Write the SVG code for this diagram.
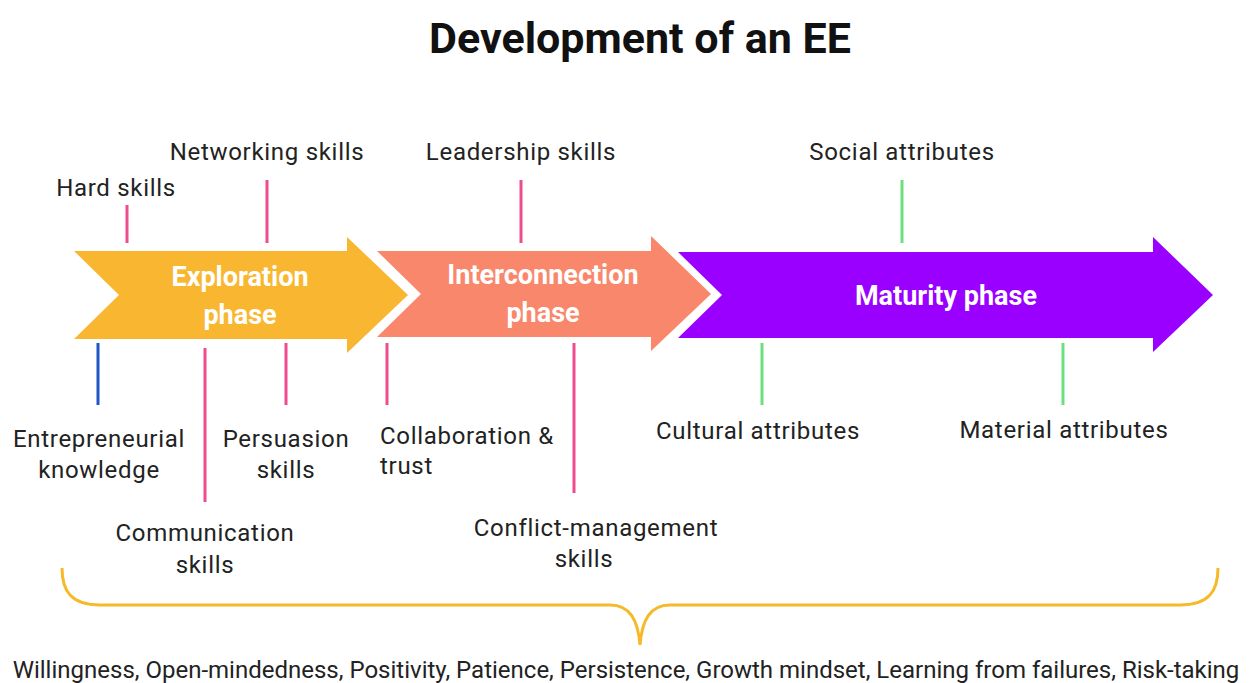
<svg xmlns="http://www.w3.org/2000/svg" width="1253" height="683" viewBox="0 0 1253 683">
<style>
.title{font-family:"Roboto","Liberation Sans",sans-serif;font-weight:bold;font-size:43px;fill:#111;text-anchor:middle}
.phase{font-family:"Roboto","Liberation Sans",sans-serif;font-weight:bold;font-size:27px;fill:#fff;text-anchor:middle}
.lbl{font-family:"Roboto","Liberation Sans",sans-serif;font-size:24px;letter-spacing:0.7px;fill:#222;text-anchor:middle}
.lbl-l{font-family:"Roboto","Liberation Sans",sans-serif;font-size:24px;letter-spacing:0.7px;fill:#222;text-anchor:start}
.bottom{font-family:"Roboto","Liberation Sans",sans-serif;font-size:24px;fill:#222;text-anchor:middle}
.pink{stroke:#ef4b8f;stroke-width:3;fill:none}
.blue{stroke:#1e55c8;stroke-width:3;fill:none}
.green{stroke:#6ce07c;stroke-width:3;fill:none}
</style>
<rect width="1253" height="683" fill="#fff"/>
<text class="title" x="640" y="53">Development of an EE</text>

<g id="exploration">
<polygon points="74,251 347,251 347,237 408,295 347,353 347,339 74,339 119,295" fill="#f9b731"/>
<text class="phase" x="240" y="286">Exploration</text>
<text class="phase" x="240" y="324">phase</text>
</g>
<g id="interconnection">
<polygon points="377,251 651,251 651,236 711,294 651,351 651,337 377,337 421,294" fill="#f9876b"/>
<text class="phase" x="543" y="284">Interconnection</text>
<text class="phase" x="543" y="322">phase</text>
</g>
<g id="maturity">
<polygon points="678,252 1153,252 1153,237 1213,295 1153,352 1153,338 678,338 722,295" fill="#9900ff"/>
<text class="phase" x="946" y="305">Maturity phase</text>
</g>

<g id="connectors">
<line class="pink" x1="127" y1="205" x2="127" y2="243"/>
<line class="pink" x1="267" y1="180" x2="267" y2="243"/>
<line class="pink" x1="521" y1="180" x2="521" y2="243"/>
<line class="green" x1="902" y1="180" x2="902" y2="243"/>
<line class="blue" x1="98" y1="343" x2="98" y2="405"/>
<line class="pink" x1="205" y1="348" x2="205" y2="502"/>
<line class="pink" x1="286" y1="343" x2="286" y2="405"/>
<line class="pink" x1="387" y1="343" x2="387" y2="405"/>
<line class="pink" x1="574" y1="343" x2="574" y2="493"/>
<line class="green" x1="762" y1="343" x2="762" y2="405"/>
<line class="green" x1="1063" y1="343" x2="1063" y2="405"/>
<path d="M62,568 C62,592 72,605 100,605 L610,605 C630,605 638,620 640,645 C642,620 650,605 670,605 L1180,605 C1208,605 1218,592 1218,568" stroke="#f6b928" stroke-width="3" fill="none"/>
</g>

<g id="hard-skills"><text class="lbl" x="116" y="196">Hard skills</text></g>
<g id="networking-skills"><text class="lbl" x="267" y="160">Networking skills</text></g>
<g id="leadership-skills"><text class="lbl" x="521" y="160">Leadership skills</text></g>
<g id="social-attributes"><text class="lbl" x="902" y="160">Social attributes</text></g>
<g id="entrepreneurial-knowledge"><text class="lbl" x="99" y="447">Entrepreneurial</text><text class="lbl" x="99" y="478">knowledge</text></g>
<g id="communication-skills"><text class="lbl" x="205" y="541">Communication</text><text class="lbl" x="205" y="573">skills</text></g>
<g id="persuasion-skills"><text class="lbl" x="286" y="447">Persuasion</text><text class="lbl" x="286" y="478">skills</text></g>
<g id="collaboration-trust"><text class="lbl-l" x="380" y="444">Collaboration &amp;</text><text class="lbl-l" x="380" y="474">trust</text></g>
<g id="conflict-management"><text class="lbl" x="596" y="536">Conflict-management</text><text class="lbl" x="584" y="567">skills</text></g>
<g id="cultural-attributes"><text class="lbl" x="758" y="439">Cultural attributes</text></g>
<g id="material-attributes"><text class="lbl" x="1064" y="438">Material attributes</text></g>
<g id="mindset"><text class="bottom" x="626" y="678">Willingness, Open-mindedness, Positivity, Patience, Persistence, Growth mindset, Learning from failures, Risk-taking</text></g>
</svg>
